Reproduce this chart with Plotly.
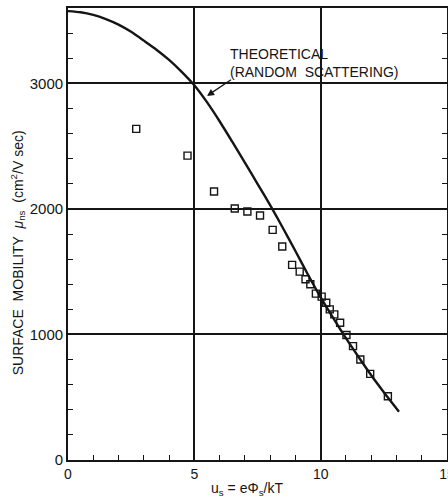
import plotly.graph_objects as go

# Theoretical mobility curve (random scattering)
theory_us = [0.0, 0.5, 1.0, 1.5, 2.0, 2.5, 3.0, 3.5, 4.0, 4.5, 5.0, 5.5, 6.0, 6.5, 7.0,
             7.5, 8.0, 8.5, 9.0, 9.5, 10.0, 10.5, 11.0, 11.5, 12.0, 12.5, 13.1]
theory_mu = [3575, 3566, 3545, 3512, 3468, 3410, 3340, 3268, 3187, 3092, 2985, 2850,
             2698, 2535, 2368, 2200, 2030, 1850, 1665, 1475, 1295, 1130, 970, 820,
             675, 540, 385]

# Measured surface mobility
meas_us = [2.70, 4.73, 5.78, 6.60, 7.10, 7.60, 8.10, 8.48, 8.87, 9.17, 9.40, 9.59,
           9.81, 10.04, 10.22, 10.36, 10.54, 10.77, 11.02, 11.28, 11.57, 11.96, 12.66]
meas_mu = [2637, 2424, 2139, 2003, 1979, 1947, 1833, 1700, 1554, 1500, 1440, 1400,
           1325, 1301, 1253, 1200, 1160, 1093, 995, 907, 801, 686, 508]

x_ticks = [0, 5, 10, 15]
y_ticks = [0, 1000, 2000, 3000]

FONT = "Liberation Sans, Arial, sans-serif"
INK = "#151515"

fig = go.Figure()
fig.add_trace(go.Scatter(
    x=theory_us, y=theory_mu, mode="lines",
    line=dict(color=INK, width=2.4, shape="spline", smoothing=0.6),
    hoverinfo="skip", showlegend=False,
))
fig.add_trace(go.Scatter(
    x=meas_us, y=meas_mu, mode="markers",
    marker=dict(symbol="square-open", size=7, color=INK, line=dict(width=1.4, color=INK)),
    showlegend=False,
))
# invisible trace on the right-hand axis so its ticks are drawn
fig.add_trace(go.Scatter(
    x=[0], y=[0], yaxis="y2", mode="markers", marker=dict(opacity=0),
    hoverinfo="skip", showlegend=False,
))

tick_style = dict(ticks="inside", ticklen=5, tickcolor=INK, tickwidth=1.2)

fig.update_layout(
    width=448, height=498,
    margin=dict(l=68, r=1, t=8, b=38, autoexpand=False),
    paper_bgcolor="white", plot_bgcolor="white",
    font=dict(family=FONT, color=INK),
    xaxis=dict(
        range=[0, 15], tickvals=x_ticks, ticktext=[str(v) for v in x_ticks],
        showgrid=True, gridcolor=INK, gridwidth=1.6,
        showline=True, linecolor=INK, linewidth=1.8, mirror=True,
        minor=dict(dtick=1, showgrid=False, **tick_style),
        tickfont=dict(size=14), zeroline=False, ticklabeloverflow="allow",
        automargin=False,
        **tick_style,
    ),
    yaxis=dict(
        range=[0, 3600], tickvals=y_ticks, ticktext=[str(v) for v in y_ticks],
        showgrid=True, gridcolor=INK, gridwidth=1.6,
        showline=True, linecolor=INK, linewidth=1.8, mirror=True,
        minor=dict(dtick=200, showgrid=False, **tick_style),
        tickfont=dict(size=15), zeroline=False, automargin=False,
        **tick_style,
    ),
    yaxis2=dict(
        range=[0, 3600], overlaying="y", side="right", matches="y",
        tickvals=y_ticks, showticklabels=False, showgrid=False, zeroline=False,
        showline=False, automargin=False,
        minor=dict(dtick=200, showgrid=False, **tick_style),
        **tick_style,
    ),
)

# Curve label with arrow
fig.add_annotation(
    x=6.35, y=3310, xref="x", yref="y", xanchor="left", yanchor="top",
    text="THEORETICAL<br>(RANDOM  SCATTERING)", showarrow=False, align="left",
    font=dict(size=14, family=FONT, color=INK),
)
fig.add_annotation(
    x=5.50, y=2900, ax=6.51, ay=3036, xref="x", yref="y", axref="x", ayref="y",
    text="", showarrow=True, arrowhead=2, arrowsize=1.1, arrowwidth=1.3, arrowcolor=INK,
)

# Axis titles
fig.add_annotation(
    x=7.08, y=-0.064, xref="x", yref="paper", xanchor="center", yanchor="middle",
    text="u<sub>s</sub> = eΦ<sub>s</sub>/kT", showarrow=False,
    font=dict(size=14, family=FONT, color=INK),
)
fig.add_annotation(
    x=-0.132, y=1654, xref="paper", yref="y", xanchor="center", yanchor="middle",
    textangle=-90, showarrow=False,
    text="SURFACE  MOBILITY  <i>μ</i><sub>ns</sub>  (cm<sup>2</sup>/V sec)",
    font=dict(size=14, family=FONT, color=INK),
)

fig.write_html("out.html")
